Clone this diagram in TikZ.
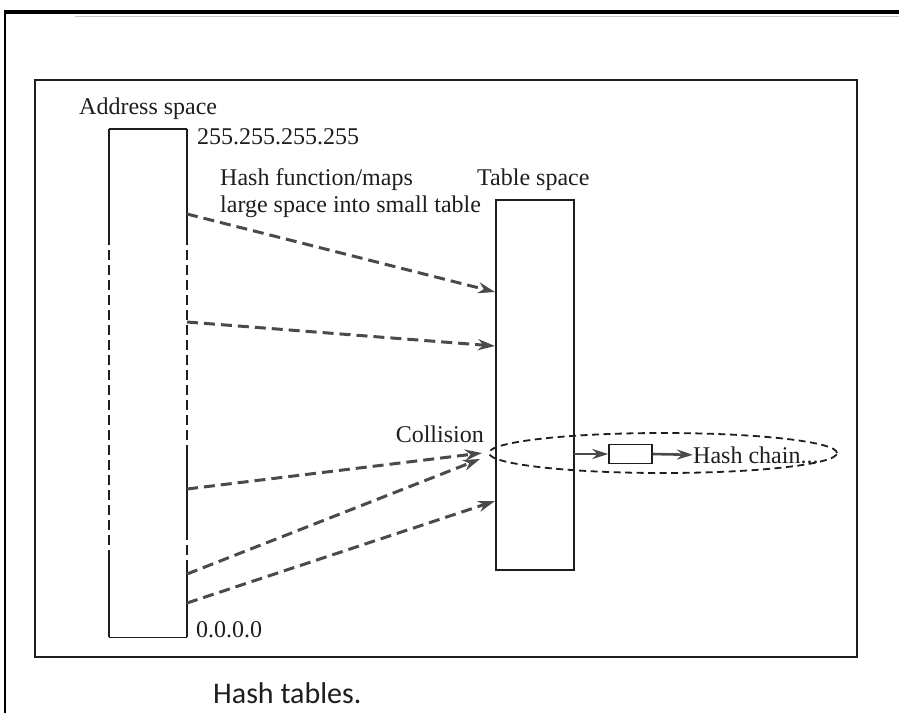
\documentclass[tikz,border=0pt]{standalone}
\usepackage{fontspec}
\setmainfont{Liberation Serif}
\newfontfamily\capfont{Carlito}
\usetikzlibrary{arrows.meta,shapes.geometric,calc}
\definecolor{inkc}{HTML}{1E1E1E}
\definecolor{arrc}{HTML}{4A4A4A}
\tikzset{
  lbl/.style={inner sep=0pt, text=inkc, font=\fontsize{24}{28}\selectfont},
  maparrow/.style={draw=arrc, line width=3pt, dash pattern=on 11pt off 6pt,
     -{Stealth[length=17pt,width=11pt,fill=arrc]}},
  chainarrow/.style={draw=arrc, line width=2.6pt, -{Stealth[length=16pt,width=10pt,fill=arrc]}},
  boxline/.style={draw=inkc, line width=1.4pt},
  sidedash/.style={draw=inkc, line width=1.4pt, dash pattern=on 10pt off 5pt}
}
\begin{document}
\begin{tikzpicture}[x=1pt,y=-1pt]
\useasboundingbox (0,0) rectangle (899,713);
\fill[white] (0,0) rectangle (899,713);
% outer page rules
\draw[black, line width=4pt] (5,12) -- (899,12);
\draw[gray!45, line width=1.5pt] (75,16.5) -- (899,16.5);
\draw[black, line width=2pt] (5,10) -- (5,713);
% inner frame
\node[draw=inkc, line width=1.4pt, minimum width=822pt, minimum height=577pt, inner sep=0pt] (frame) at (446,368.5) {};
% address space box
\node[minimum width=78pt, minimum height=508pt, inner sep=0pt] (addr) at (148,383) {};
\draw[boxline] (addr.north west) -- (addr.north east);
\draw[boxline] (addr.south west) -- (addr.south east);
\draw[boxline] (109,129) -- (109,235);
\draw[sidedash] (109,235) -- (109,555);
\draw[boxline] (109,555) -- (109,637);
\draw[boxline] (187,129) -- (187,235);
\draw[sidedash] (187,235) -- (187,455);
\draw[boxline] (187,455) -- (187,530);
\draw[sidedash] (187,530) -- (187,562);
\draw[boxline] (187,562) -- (187,637);
% table space box
\node[draw=inkc, line width=1.4pt, minimum width=78pt, minimum height=370pt, inner sep=0pt] (tbl) at (535,385) {};
% labels
\node[lbl, anchor=base west] (addrlbl) at (79,114) {Address space};
\node[lbl, anchor=base west] (hi) at (197,144) {255.255.255.255};
\node[lbl, anchor=base west] (lo) at (196,637) {0.0.0.0};
\node[lbl, anchor=base west] (hf1) at (220,185) {Hash function/maps};
\node[lbl, anchor=base west] (hf2) at (220,212) {large space into small table};
\node[lbl, anchor=base west] (tbllbl) at (477,185) {Table space};
\node[lbl, anchor=base east] (coll) at (484,442) {Collision};
% chain
\node[draw=inkc, line width=1.8pt, dash pattern=on 7pt off 4.5pt, ellipse, minimum width=348pt, minimum height=40pt, inner sep=0pt] (chainell) at (663,453) {};
\node[draw=inkc, line width=1.4pt, minimum width=43pt, minimum height=19pt, inner sep=0pt] (cb) at (630.5,454) {};
\node[lbl, anchor=base west] (chainlbl) at (693,463) {Hash chain...};
\coordinate (c0) at (574,454);
\draw[chainarrow] (c0) -- (cb.west);
\draw[chainarrow] (cb.east) -- (chainlbl.west);
% mapping arrows
\coordinate (a1) at (187,214);
\coordinate (a2) at (187,322);
\coordinate (a3) at (187,489);
\coordinate (a4) at (187,574);
\coordinate (a5) at (187,603);
\coordinate (t1) at (495,292);
\coordinate (t2) at (495,346);
\coordinate (t3) at (482,453);
\coordinate (t4) at (480,459);
\coordinate (t5) at (495,501);
\draw[maparrow] (a1) -- (t1);
\draw[maparrow] (a2) -- (t2);
\draw[maparrow] (a3) -- (t3);
\draw[maparrow] (a4) -- (t4);
\draw[maparrow] (a5) -- (t5);
% caption
\node[inner sep=0pt, anchor=base west, text=inkc, font=\capfont\fontsize{30}{34}\selectfont] (cap) at (213,703) {Hash tables.};
\end{tikzpicture}
\end{document}
